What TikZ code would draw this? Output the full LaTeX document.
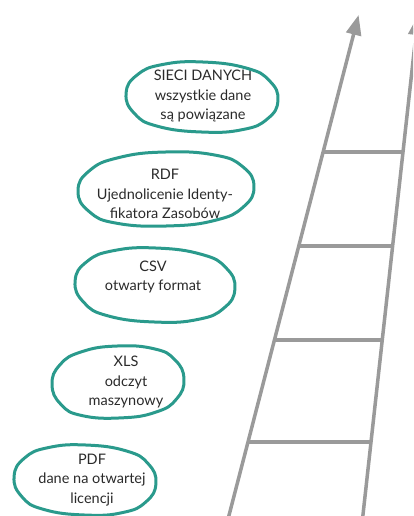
\documentclass[tikz,border=0pt]{standalone}
\usepackage{fontspec}
\setmainfont{Lato}
\usetikzlibrary{arrows.meta,calc}
\definecolor{tealline}{HTML}{2A9A8C}
\definecolor{railgray}{HTML}{9A9A9A}
\definecolor{txt}{HTML}{2A2A2A}
% hand-drawn looking closed outline around a label
\newcommand\tealblob[4]{% center, rx, ry, rotation
  \draw[blob, shift={(#1)}, rotate=#4, xscale=#2, yscale=#3]
    plot[smooth cycle, tension=0.8] coordinates
    {(1,0.02) (0.87,0.56) (0.55,0.89) (0.02,1) (-0.57,0.88) (-0.88,0.54)
     (-1,-0.03) (-0.86,-0.57) (-0.53,-0.89) (0,-1) (0.57,-0.87) (0.88,-0.53)};}
\begin{document}
\begin{tikzpicture}[x=1pt,y=-1pt,
  tagtext/.style={align=center,text=txt,font=\fontsize{14.5}{19.5}\selectfont,inner sep=0pt},
  blob/.style={draw=tealline,line width=3pt},
  railline/.style={draw=railgray,line width=3.5pt},
  rungline/.style={draw=railgray,line width=3.5pt},
  ]
\useasboundingbox (0,0) rectangle (413,516);
\clip (0,0) rectangle (413,516);

% ladder rails
\coordinate (lb) at (227.8,520);
\coordinate (lt) at (358.6,15);
\coordinate (rb) at (362.4,520);
\coordinate (rt) at (418.1,15);
\draw[railline,-{Triangle[length=20pt,width=15pt]}] (lb) -- (lt);
\draw[railline,-{Triangle[length=20pt,width=15pt]}] (rb) -- (rt);

% rungs
\foreach \t [count=\i] in {0.7287,0.5426,0.3564,0.1545}{
  \coordinate (l\i) at ($(lb)!\t!(lt)$);
  \coordinate (r\i) at ($(rb)!\t!(rt)$);
  \draw[rungline] (l\i) -- (r\i);
}

% levels
\node[tagtext] (sieci) at (203,96) {SIECI DANYCH\\wszystkie dane\\są powiązane};
\node[tagtext] (rdf) at (165,194) {RDF\\Ujednolicenie Identy-\\fikatora Zasobów};
\node[tagtext] (csv) at (153,277) {CSV\\otwarty format};
\node[tagtext] (xls) at (126,382) {XLS\\odczyt\\maszynowy};
\node[tagtext] (pdf) at (92,480) {PDF\\dane na otwartej\\licencji};

\tealblob{202,97}{76}{35}{-2}
\tealblob{166,189}{88}{37}{2}
\tealblob{155,285}{80}{37}{-2}
\tealblob{118,382}{66}{36}{3}
\tealblob{85,480}{71}{35}{-2}
\end{tikzpicture}
\end{document}
